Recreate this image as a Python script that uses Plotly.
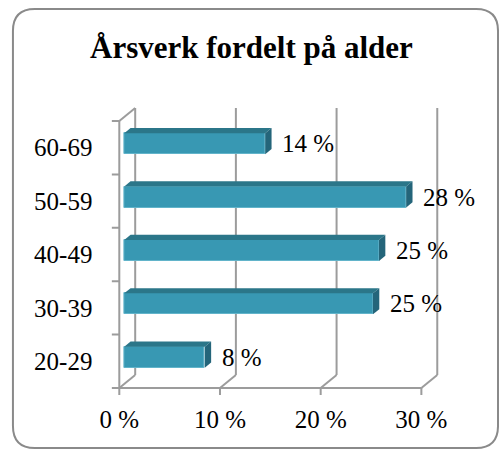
import plotly.graph_objects as go

# ---- data ----
categories = ["20-29", "30-39", "40-49", "50-59", "60-69"]
values = [8.0, 24.7, 25.3, 28.0, 14.0]
x_ticks = [0, 10, 20, 30]
x_ticktext = [f"{t} %" for t in x_ticks]
title_text = "Årsverk fordelt på alder"

# ---- geometry / style ----
W, H = 499, 450
PX_X = 10.13        # px per x unit (%)
PX_Y = 53.4         # px per category
DXu = 16 / PX_X     # depth vector, x units
DYu = 13 / PX_Y     # depth vector, y units (up)
D0, D1 = 0.31, 0.71 # bar front / back depth
HH = 10.5 / PX_Y    # bar half height
FONT = "Liberation Serif"
GRID = "#9c9c9c"
C_FRONT, C_TOP, C_SIDE = "#3898b3", "#2b7689", "#24657a"

# plot area in px
L_PX, R_PX, T_PX, B_PX = 100, 470, 100, 400
X0_PX, YB_PX = 117, 388   # front plane: x=0, y=-0.5
x_range = [-(X0_PX - L_PX) / PX_X, (R_PX - X0_PX) / PX_X]
y_range = [-0.5 - (B_PX - YB_PX) / PX_Y, -0.5 + (YB_PX - T_PX) / PX_Y]

n = len(categories)
ybot, ytop = -0.5, n - 0.5


def P(x, y, d):
    return x + d * DXu, y + d * DYu


fig = go.Figure()

# front faces
fig.add_trace(go.Bar(
    orientation="h",
    y=[i + D0 * DYu for i in range(n)],
    x=values,
    base=D0 * DXu,
    width=2 * HH,
    marker=dict(color=C_FRONT, line=dict(color="#62b4ca", width=1)),
    hoverinfo="skip",
    showlegend=False,
))

# top and side faces
for i, v in enumerate(values):
    pts = [P(0, i + HH, D0), P(v, i + HH, D0), P(v, i + HH, D1), P(0, i + HH, D1), P(0, i + HH, D0)]
    fig.add_trace(go.Scatter(x=[p[0] for p in pts], y=[p[1] for p in pts], mode="lines",
                             fill="toself", fillcolor=C_TOP, line=dict(width=0, color=C_TOP),
                             hoverinfo="skip", showlegend=False))
    pts = [P(v, i - HH, D0), P(v, i + HH, D0), P(v, i + HH, D1), P(v, i - HH, D1), P(v, i - HH, D0)]
    fig.add_trace(go.Scatter(x=[p[0] for p in pts], y=[p[1] for p in pts], mode="lines",
                             fill="toself", fillcolor=C_SIDE, line=dict(width=0, color=C_SIDE),
                             hoverinfo="skip", showlegend=False))

shapes = []
line = dict(color=GRID, width=2)


def seg(a, b):
    shapes.append(dict(type="line", xref="x", yref="y", x0=a[0], y0=a[1], x1=b[0], y1=b[1],
                       line=line, layer="below"))


# floor front edge
seg(P(0, ybot, 0), P(x_ticks[-1], ybot, 0))
# floor diagonals + back wall verticals + bottom ticks
for t in x_ticks:
    seg(P(t, ybot, 0), P(t, ybot, 1))
    seg(P(t, ybot, 1), P(t, ytop, 1))
    seg(P(t, ybot, 0), (t, ybot - 7 / PX_Y))
# left wall front edge and top diagonal
seg(P(0, ybot, 0), P(0, ytop, 0))
seg(P(0, ytop, 0), P(0, ytop, 1))
# left ticks
for k in range(n + 1):
    y = ybot + k
    seg((0, y), (-7.5 / PX_X, y))

# rounded border in paper coords
bx0, by0, bx1, by1, r = 10, 9, 498, 448, 22
def px(xp): return xp / W
def py(yp): return 1 - yp / H
path = (f"M {px(bx0 + r)},{py(by0)} L {px(bx1 - r)},{py(by0)} "
        f"Q {px(bx1)},{py(by0)} {px(bx1)},{py(by0 + r)} L {px(bx1)},{py(by1 - r)} "
        f"Q {px(bx1)},{py(by1)} {px(bx1 - r)},{py(by1)} L {px(bx0 + r)},{py(by1)} "
        f"Q {px(bx0)},{py(by1)} {px(bx0)},{py(by1 - r)} L {px(bx0)},{py(by0 + r)} "
        f"Q {px(bx0)},{py(by0)} {px(bx0 + r)},{py(by0)} Z")
shapes.append(dict(type="path", xref="paper", yref="paper", path=path,
                   line=dict(color="#8a8a8a", width=2), layer="below"))

annotations = []
for i, v in enumerate(values):
    xx, yy = P(v, i, D0)
    annotations.append(dict(x=xx, y=yy, xref="x", yref="y", text=f"{round(v):.0f} %",
                            showarrow=False, xanchor="left", yanchor="middle", xshift=15,
                            font=dict(family=FONT, size=25, color="black")))
annotations.append(dict(x=250.5 / W, y=1 - 47 / H, xref="paper", yref="paper",
                        text=f"<b>{title_text}</b>", showarrow=False,
                        xanchor="center", yanchor="middle",
                        font=dict(family=FONT, size=31, color="black")))

fig.update_layout(
    width=W, height=H,
    margin=dict(l=0, r=0, t=0, b=0),
    paper_bgcolor="white", plot_bgcolor="rgba(0,0,0,0)",
    shapes=shapes, annotations=annotations,
    bargap=0,
    xaxis=dict(domain=[L_PX / W, R_PX / W], range=x_range, showgrid=False, zeroline=False,
               showline=False, tickvals=x_ticks, ticktext=x_ticktext, ticks="",
               ticklabelstandoff=2, tickfont=dict(family=FONT, size=25, color="black"),
               fixedrange=True),
    yaxis=dict(domain=[1 - B_PX / H, 1 - T_PX / H], range=y_range, showgrid=False, zeroline=False,
               showline=False, tickvals=list(range(n)), ticktext=categories, ticks="",
               ticklabelstandoff=9, tickfont=dict(family=FONT, size=25, color="black"),
               fixedrange=True),
)

fig.write_html("out.html", config={"displayModeBar": False},
               post_script="document.body.style.margin='0';document.body.style.overflow='hidden';")
